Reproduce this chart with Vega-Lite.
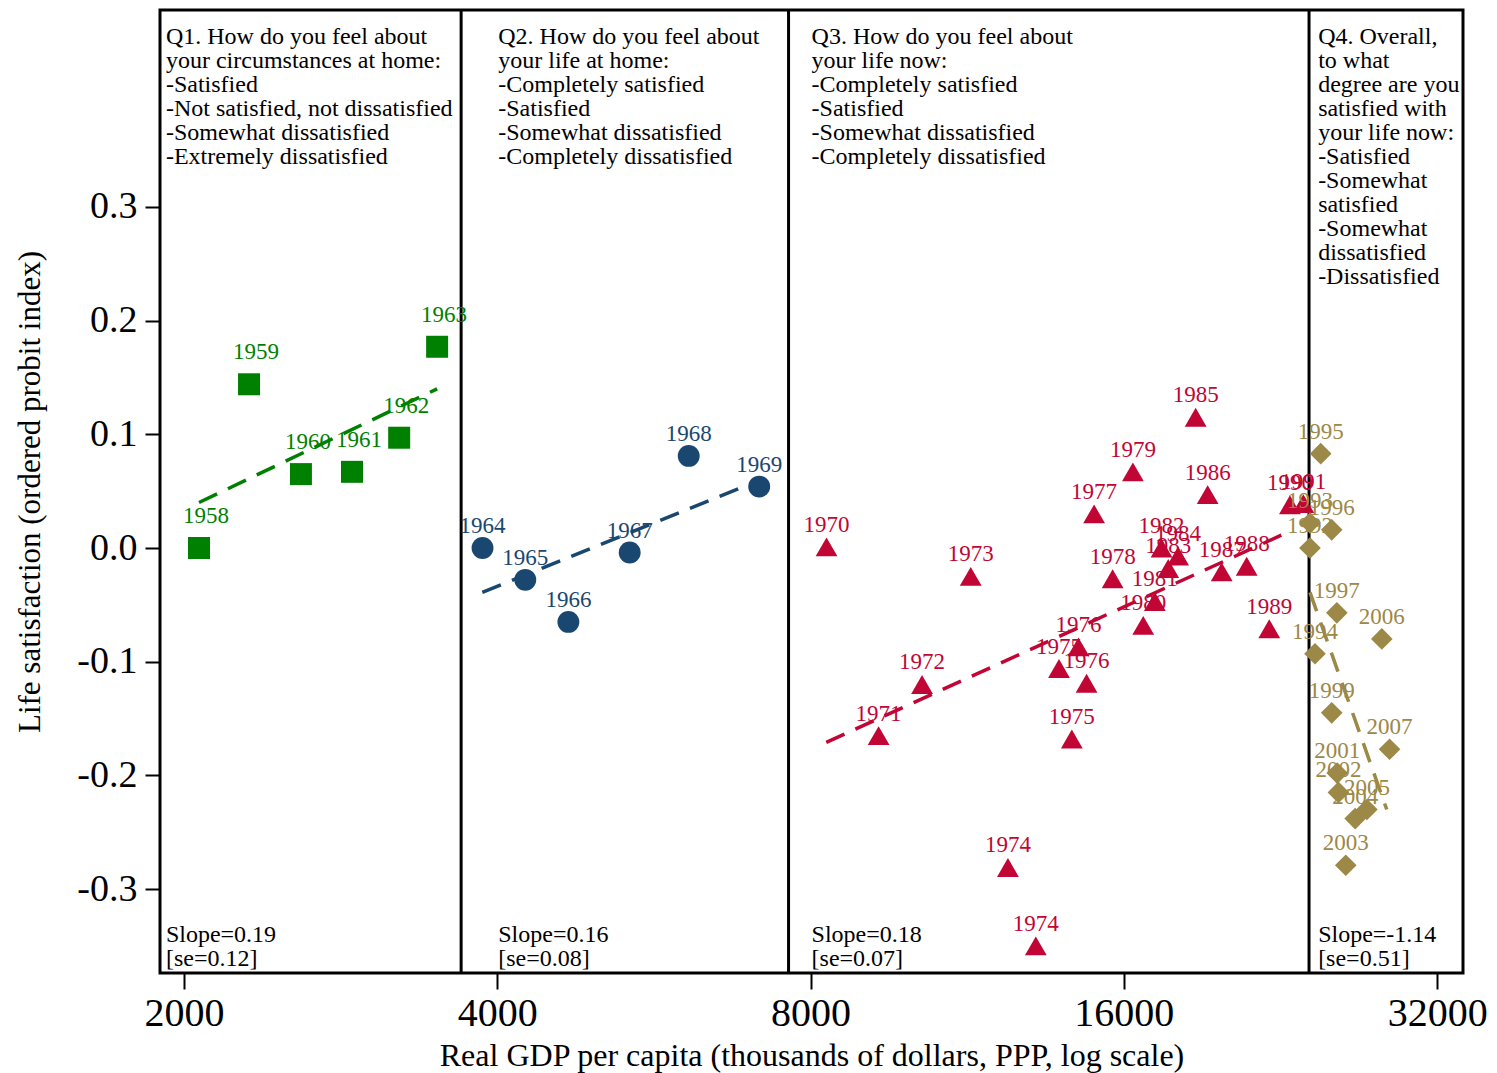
{
  "$schema": "https://vega.github.io/schema/vega-lite/v6.json",
  "width": 1303,
  "height": 963,
  "autosize": {"type": "none"},
  "padding": {"left": 160, "top": 10, "right": 34, "bottom": 100},
  "background": "white",
  "config": {
    "font": "Liberation Serif",
    "view": {"stroke": "black", "strokeWidth": 3},
    "axis": {"grid": false}
  },
  "datasets": {
    "pts": [
      {"q": "Q1", "year": "1958", "gdp": 2068, "ls": 0.000},
      {"q": "Q1", "year": "1959", "gdp": 2310, "ls": 0.144},
      {"q": "Q1", "year": "1960", "gdp": 2591, "ls": 0.065},
      {"q": "Q1", "year": "1961", "gdp": 2901, "ls": 0.067},
      {"q": "Q1", "year": "1962", "gdp": 3220, "ls": 0.097},
      {"q": "Q1", "year": "1963", "gdp": 3502, "ls": 0.177},
      {"q": "Q2", "year": "1964", "gdp": 3872, "ls": 0.000},
      {"q": "Q2", "year": "1965", "gdp": 4256, "ls": -0.028},
      {"q": "Q2", "year": "1966", "gdp": 4682, "ls": -0.065},
      {"q": "Q2", "year": "1967", "gdp": 5362, "ls": -0.004},
      {"q": "Q2", "year": "1968", "gdp": 6110, "ls": 0.081},
      {"q": "Q2", "year": "1969", "gdp": 7141, "ls": 0.054},
      {"q": "Q3", "year": "1970", "gdp": 8288, "ls": 0.001},
      {"q": "Q3", "year": "1971", "gdp": 9300, "ls": -0.165},
      {"q": "Q3", "year": "1972", "gdp": 10238, "ls": -0.120},
      {"q": "Q3", "year": "1973", "gdp": 11402, "ls": -0.025},
      {"q": "Q3", "year": "1974", "gdp": 12380, "ls": -0.281},
      {"q": "Q3", "year": "1974", "gdp": 13168, "ls": -0.350},
      {"q": "Q3", "year": "1975", "gdp": 13861, "ls": -0.106},
      {"q": "Q3", "year": "1975", "gdp": 14260, "ls": -0.168},
      {"q": "Q3", "year": "1976", "gdp": 14470, "ls": -0.087},
      {"q": "Q3", "year": "1976", "gdp": 14733, "ls": -0.119},
      {"q": "Q3", "year": "1977", "gdp": 14980, "ls": 0.030},
      {"q": "Q3", "year": "1978", "gdp": 15607, "ls": -0.027},
      {"q": "Q3", "year": "1979", "gdp": 16323, "ls": 0.067},
      {"q": "Q3", "year": "1980", "gdp": 16700, "ls": -0.068},
      {"q": "Q3", "year": "1981", "gdp": 17135, "ls": -0.047},
      {"q": "Q3", "year": "1982", "gdp": 17390, "ls": 0.000},
      {"q": "Q3", "year": "1983", "gdp": 17650, "ls": -0.018},
      {"q": "Q3", "year": "1984", "gdp": 18040, "ls": -0.007},
      {"q": "Q3", "year": "1985", "gdp": 18754, "ls": 0.115},
      {"q": "Q3", "year": "1986", "gdp": 19259, "ls": 0.047},
      {"q": "Q3", "year": "1987", "gdp": 19866, "ls": -0.021},
      {"q": "Q3", "year": "1988", "gdp": 20995, "ls": -0.016},
      {"q": "Q3", "year": "1989", "gdp": 22070, "ls": -0.071},
      {"q": "Q3", "year": "1990", "gdp": 23103, "ls": 0.038},
      {"q": "Q3", "year": "1991", "gdp": 23800, "ls": 0.039},
      {"q": "Q4", "year": "1992", "gdp": 24150, "ls": 0.000},
      {"q": "Q4", "year": "1993", "gdp": 24150, "ls": 0.022},
      {"q": "Q4", "year": "1994", "gdp": 24420, "ls": -0.093},
      {"q": "Q4", "year": "1995", "gdp": 24730, "ls": 0.083},
      {"q": "Q4", "year": "1996", "gdp": 25340, "ls": 0.016},
      {"q": "Q4", "year": "1997", "gdp": 25630, "ls": -0.057},
      {"q": "Q4", "year": "1999", "gdp": 25340, "ls": -0.145},
      {"q": "Q4", "year": "2001", "gdp": 25650, "ls": -0.198},
      {"q": "Q4", "year": "2002", "gdp": 25720, "ls": -0.215},
      {"q": "Q4", "year": "2003", "gdp": 26140, "ls": -0.279},
      {"q": "Q4", "year": "2004", "gdp": 26690, "ls": -0.238},
      {"q": "Q4", "year": "2005", "gdp": 27390, "ls": -0.230},
      {"q": "Q4", "year": "2006", "gdp": 28310, "ls": -0.080},
      {"q": "Q4", "year": "2007", "gdp": 28800, "ls": -0.177}
    ],
    "fits": [
      {"q": "Q1", "gdp": 2068, "ls": 0.040},
      {"q": "Q1", "gdp": 3502, "ls": 0.140},
      {"q": "Q2", "gdp": 3870, "ls": -0.039},
      {"q": "Q2", "gdp": 6988, "ls": 0.056},
      {"q": "Q3", "gdp": 8283, "ls": -0.171},
      {"q": "Q3", "gdp": 23010, "ls": 0.014},
      {"q": "Q4", "gdp": 24150, "ls": -0.039},
      {"q": "Q4", "gdp": 28620, "ls": -0.230}
    ],
    "dividers": [
      {"gdp": 3693},
      {"gdp": 7620},
      {"gdp": 24100}
    ],
    "titles": [
      {"gdp": 1922, "ls": 0.4433, "txt": "Q1. How do you feel about\nyour circumstances at home:\n-Satisfied\n-Not satisfied, not dissatisfied\n-Somewhat dissatisfied\n-Extremely dissatisfied"},
      {"gdp": 4009, "ls": 0.4433, "txt": "Q2. How do you feel about\nyour life at home:\n-Completely satisfied\n-Satisfied\n-Somewhat dissatisfied\n-Completely dissatisfied"},
      {"gdp": 8018, "ls": 0.4433, "txt": "Q3. How do you feel about\nyour life now:\n-Completely satisfied\n-Satisfied\n-Somewhat dissatisfied\n-Completely dissatisfied"},
      {"gdp": 24590, "ls": 0.4433, "txt": "Q4. Overall,\nto what\ndegree are you\nsatisfied with\nyour life now:\n-Satisfied\n-Somewhat\n\u2002satisfied\n-Somewhat\n\u2002dissatisfied\n-Dissatisfied"},
      {"gdp": 1922, "ls": -0.3468, "txt": "Slope=0.19\n[se=0.12]"},
      {"gdp": 4009, "ls": -0.3468, "txt": "Slope=0.16\n[se=0.08]"},
      {"gdp": 8018, "ls": -0.3468, "txt": "Slope=0.18\n[se=0.07]"},
      {"gdp": 24590, "ls": -0.3468, "txt": "Slope=-1.14\n[se=0.51]"}
    ]
  },
  "encoding": {
    "x": {
      "field": "gdp", "type": "quantitative",
      "scale": {"type": "log", "domain": [1897, 33880], "nice": false},
      "axis": {
        "values": [2000, 4000, 8000, 16000, 32000],
        "format": "d",
        "title": "Real GDP per capita (thousands of dollars, PPP, log scale)",
        "titleFont": "Liberation Serif", "titleFontSize": 32, "titleFontWeight": "normal", "titleColor": "black",
        "titlePadding": 7,
        "labelFont": "Liberation Serif", "labelFontSize": 40, "labelColor": "black",
        "labelPadding": 4, "labelFlush": false, "labelOverlap": false,
        "tickSize": 16, "tickWidth": 2, "tickColor": "black",
        "domain": false
      }
    },
    "y": {
      "field": "ls", "type": "quantitative",
      "scale": {"domain": [-0.3738, 0.4732], "nice": false, "zero": false},
      "axis": {
        "values": [-0.3, -0.2, -0.1, 0, 0.1, 0.2, 0.3],
        "labelExpr": "replace(format(datum.value, '.1f'), '−', '-')",
        "title": "Life satisfaction (ordered probit index)",
        "titleFont": "Liberation Serif", "titleFontSize": 31, "titleFontWeight": "normal", "titleColor": "black",
        "titlePadding": 30,
        "labelFont": "Liberation Serif", "labelFontSize": 38, "labelColor": "black",
        "labelPadding": 8, "labelFlush": false, "labelOverlap": false,
        "tickSize": 15, "tickWidth": 2, "tickColor": "black",
        "domain": false
      }
    }
  },
  "layer": [
    {
      "data": {"name": "dividers"},
      "mark": {"type": "rule", "color": "black", "strokeWidth": 3},
      "encoding": {"x": {"field": "gdp", "type": "quantitative"}, "y": null}
    },
    {
      "data": {"name": "fits"},
      "mark": {"type": "line", "strokeWidth": 3.5, "strokeDash": [20, 12]},
      "encoding": {
        "color": {"field": "q", "type": "nominal", "scale": {"domain": ["Q1", "Q2", "Q3", "Q4"], "range": ["#008000", "#1a476f", "#c10534", "#9c8847"]}, "legend": null},
        "detail": {"field": "q"}
      }
    },
    {
      "data": {"name": "pts"},
      "mark": {"type": "point", "filled": true, "opacity": 1, "strokeWidth": 0},
      "encoding": {
        "shape": {"field": "q", "type": "nominal", "scale": {"domain": ["Q1", "Q2", "Q3", "Q4"], "range": ["square", "circle", "triangle-up", "diamond"]}, "legend": null},
        "size": {"field": "q", "type": "nominal", "scale": {"domain": ["Q1", "Q2", "Q3", "Q4"], "range": [484, 470, 650, 760]}, "legend": null},
        "color": {"field": "q", "type": "nominal", "legend": null}
      }
    },
    {
      "data": {"name": "pts"},
      "transform": [{"filter": "datum.q === 'Q1'"}],
      "mark": {"type": "text", "fontSize": 23, "font": "Liberation Serif", "align": "center", "baseline": "alphabetic", "dx": 7, "dy": -25},
      "encoding": {
        "text": {"field": "year", "type": "nominal"},
        "color": {"field": "q", "type": "nominal", "legend": null}
      }
    },
    {
      "data": {"name": "pts"},
      "transform": [{"filter": "datum.q !== 'Q1'"}],
      "mark": {"type": "text", "fontSize": 23, "font": "Liberation Serif", "align": "center", "baseline": "alphabetic", "dy": -15},
      "encoding": {
        "text": {"field": "year", "type": "nominal"},
        "color": {"field": "q", "type": "nominal", "legend": null}
      }
    },
    {
      "data": {"name": "titles"},
      "mark": {"type": "text", "fontSize": 24, "font": "Liberation Serif", "color": "black", "align": "left", "baseline": "alphabetic", "lineBreak": "\n", "lineHeight": 24},
      "encoding": {
        "text": {"field": "txt", "type": "nominal"}
      }
    }
  ]
}
